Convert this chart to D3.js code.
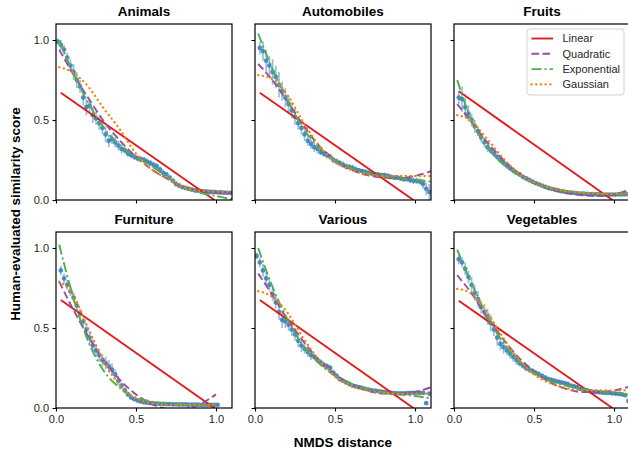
<!DOCTYPE html>
<html><head><meta charset="utf-8">
<script src="https://cdn.jsdelivr.net/npm/d3@7"></script>
<style>body{margin:0;background:#fff}svg{display:block}</style>
</head><body><svg id="c" width="628" height="452"></svg>
<script>
const categories = ["Animals","Automobiles","Fruits","Furniture","Various","Vegetables"];
const fitNames = ["Linear","Quadratic","Exponential","Gaussian"];
const xTicks = [0, 0.5, 1.0];
const yTicks = [0, 0.5, 1.0];
const xLabel = "NMDS distance";
const yLabel = "Human-evaluated similarity score";

const distances = [0.01,0.03,0.05,0.07,0.09,0.11,0.13,0.15,0.17,0.19,0.21,0.23,0.25,0.27,0.29,0.31,0.33,0.35,0.37,0.39,0.41,0.43,0.45,0.47,0.49,0.51,0.53,0.55,0.57,0.59,0.61,0.63,0.65,0.67,0.69,0.71,0.73,0.75,0.77,0.79,0.81,0.83,0.85,0.87,0.89,0.91,0.93,0.95,0.97,0.99,1.01,1.03,1.05,1.07,1.09];

const simAnimals = [0.99,0.97,0.94,0.89,0.84,0.80,0.75,0.71,0.64,0.58,0.59,0.53,0.51,0.48,0.45,0.41,0.37,0.38,0.36,0.34,0.32,0.31,0.29,0.28,0.27,0.26,0.255,0.25,0.24,0.23,0.22,0.21,0.19,0.17,0.16,0.14,0.12,0.10,0.09,0.08,0.075,0.07,0.065,0.06,0.058,0.056,0.054,0.052,0.05,0.05,0.048,0.047,0.046,0.045,0.045];
const errAnimals = [0.02,0.03,0.03,0.03,0.04,0.05,0.05,0.04,0.05,0.05,0.04,0.05,0.04,0.04,0.04,0.05,0.04,0.03,0.03,0.03,0.03,0.02,0.02,0.02,0.02,0.02,0.02,0.02,0.02,0.02,0.02,0.02,0.02,0.02,0.015,0.015,0.015,0.015,0.015,0.01,0.01,0.01,0.01,0.01,0.01,0.01,0.01,0.01,0.01,0.01,0.01,0.01,0.01,0.01,0.01];

const simAutomobiles = [null,0.95,0.93,0.87,0.84,0.80,0.77,0.72,0.68,0.64,0.60,0.56,0.52,0.48,0.45,0.41,0.37,0.35,0.33,0.32,0.30,0.29,0.28,0.27,0.25,0.24,0.23,0.22,0.21,0.205,0.20,0.19,0.185,0.18,0.175,0.17,0.165,0.16,0.16,0.155,0.155,0.15,0.145,0.14,0.14,0.135,0.13,0.13,0.125,0.12,0.12,0.115,0.10,0.07,0.05];
const errAutomobiles = [null,0.04,0.06,0.07,0.06,0.08,0.07,0.08,0.06,0.06,0.05,0.05,0.05,0.04,0.04,0.04,0.03,0.03,0.03,0.03,0.02,0.02,0.02,0.02,0.02,0.02,0.02,0.02,0.02,0.02,0.02,0.02,0.015,0.015,0.015,0.015,0.015,0.015,0.015,0.015,0.015,0.015,0.015,0.015,0.015,0.015,0.015,0.015,0.02,0.02,0.02,0.02,0.03,0.04,0.05];

const simFruits = [null,0.64,0.63,0.58,0.54,0.50,0.46,0.43,0.39,0.36,0.33,0.31,0.29,0.27,0.25,0.235,0.215,0.20,0.185,0.17,0.16,0.145,0.135,0.125,0.115,0.105,0.098,0.09,0.082,0.075,0.07,0.065,0.06,0.055,0.052,0.048,0.046,0.044,0.042,0.04,0.039,0.038,0.037,0.036,0.035,0.035,0.034,0.034,0.034,0.034,0.034,0.035,0.035,0.036,0.036];
const errFruits = [null,0.04,0.08,0.06,0.05,0.04,0.04,0.03,0.03,0.03,0.03,0.02,0.02,0.02,0.02,0.02,0.02,0.02,0.02,0.015,0.015,0.015,0.015,0.015,0.015,0.01,0.01,0.01,0.01,0.01,0.01,0.01,0.01,0.01,0.01,0.01,0.01,0.01,0.01,0.01,0.01,0.01,0.01,0.01,0.01,0.01,0.01,0.01,0.01,0.01,0.01,0.01,0.01,0.01,0.01];

const simFurniture = [null,0.86,0.81,0.77,0.73,0.69,0.64,0.59,0.54,0.49,0.44,0.39,0.36,0.33,0.30,0.28,0.26,0.24,0.21,0.17,0.14,0.11,0.085,0.065,0.055,0.047,0.04,0.036,0.033,0.03,0.028,0.027,0.026,0.025,0.024,0.024,0.023,0.023,0.022,0.022,0.022,0.021,0.021,0.021,0.021,0.02,0.02,0.02,0.02,0.02,0.02,null,null,null,null];
const errFurniture = [null,0.03,0.03,0.03,0.03,0.03,0.03,0.03,0.04,0.04,0.04,0.04,0.04,0.04,0.04,0.04,0.04,0.04,0.03,0.03,0.02,0.02,0.015,0.01,0.01,0.01,0.01,0.01,0.01,0.01,0.01,0.01,0.01,0.01,0.01,0.01,0.01,0.01,0.01,0.01,0.01,0.01,0.01,0.01,0.01,0.01,0.01,0.01,0.01,0.01,0.01,null,null,null,null];

const simVarious = [0.95,0.91,0.86,0.81,0.77,0.71,0.66,0.60,0.55,0.54,0.52,0.49,0.46,0.42,0.39,0.37,0.35,0.33,0.32,0.30,0.285,0.27,0.26,0.25,0.22,0.20,0.18,0.17,0.16,0.15,0.14,0.135,0.13,0.125,0.12,0.115,0.11,0.108,0.105,0.102,0.10,0.098,0.095,0.093,0.092,0.092,0.092,0.093,0.094,0.095,0.095,0.095,0.094,0.03,0.09];
const errVarious = [0.02,0.03,0.04,0.04,0.04,0.04,0.04,0.05,0.05,0.04,0.04,0.04,0.04,0.04,0.04,0.03,0.03,0.03,0.02,0.02,0.02,0.02,0.02,0.02,0.02,0.02,0.015,0.015,0.015,0.015,0.01,0.01,0.01,0.01,0.01,0.01,0.01,0.01,0.01,0.01,0.01,0.01,0.01,0.01,0.01,0.01,0.01,0.01,0.01,0.01,0.01,0.01,0.01,0.01,0.01];

const simVegetables = [null,0.93,0.91,0.87,0.82,0.77,0.72,0.68,0.63,0.60,0.57,0.53,0.49,0.44,0.40,0.38,0.36,0.34,0.32,0.30,0.28,0.265,0.25,0.24,0.23,0.22,0.21,0.20,0.19,0.18,0.175,0.17,0.165,0.16,0.155,0.15,0.14,0.135,0.13,0.12,0.115,0.11,0.105,0.10,0.10,0.098,0.096,0.095,0.094,0.092,0.09,0.088,0.085,0.08,0.045];
const errVegetables = [null,0.03,0.03,0.04,0.04,0.05,0.05,0.05,0.04,0.05,0.05,0.05,0.04,0.05,0.04,0.04,0.03,0.03,0.03,0.03,0.02,0.02,0.02,0.02,0.02,0.02,0.02,0.015,0.015,0.015,0.015,0.015,0.01,0.01,0.01,0.01,0.01,0.01,0.01,0.01,0.01,0.01,0.01,0.01,0.01,0.01,0.01,0.01,0.01,0.01,0.01,0.01,0.01,0.01,0.02];

// fitted curves, read at these distances
const fitX = [0.02,0.1,0.2,0.3,0.4,0.5,0.6,0.7,0.8,0.9,1.0,1.1];
const quadAnimals     = [0.94,0.80,0.64,0.49,0.37,0.27,0.19,0.13,0.08,0.055,0.045,0.045];
const expAnimals      = [1.0,0.81,0.61,0.45,0.34,0.27,0.21,0.14,0.075,0.045,0.025,0.005];
const gaussAnimals    = [0.83,0.80,0.71,0.57,0.44,0.29,0.19,0.13,0.08,0.058,0.052,0.05];
const quadAutomobiles = [0.85,0.76,0.62,0.47,0.34,0.25,0.19,0.155,0.14,0.135,0.15,0.18];
const expAutomobiles  = [1.04,0.84,0.63,0.45,0.33,0.25,0.20,0.17,0.15,0.135,0.125,0.115];
const gaussAutomobiles= [0.78,0.76,0.66,0.49,0.34,0.24,0.19,0.16,0.15,0.15,0.15,0.15];
const quadFruits      = [0.60,0.50,0.37,0.26,0.17,0.11,0.07,0.045,0.03,0.025,0.035,0.065];
const expFruits       = [0.75,0.52,0.34,0.23,0.16,0.11,0.075,0.055,0.045,0.04,0.035,0.035];
const gaussFruits     = [0.53,0.50,0.39,0.27,0.17,0.11,0.075,0.055,0.045,0.04,0.04,0.04];
const quadFurniture   = [0.79,0.63,0.45,0.295,0.175,0.085,0.024,-0.006,-0.006,0.024,0.085,null];
const expFurniture    = [1.02,0.72,0.42,0.23,0.125,0.065,0.04,0.028,0.022,0.02,0.02,null];
const gaussFurniture  = [0.79,0.72,0.50,0.29,0.14,0.06,0.03,0.02,0.02,0.02,0.02,null];
const quadVarious     = [0.84,0.72,0.56,0.42,0.30,0.21,0.15,0.11,0.09,0.09,0.10,0.13];
const expVarious      = [1.0,0.78,0.56,0.39,0.28,0.20,0.15,0.12,0.10,0.085,0.075,0.06];
const gaussVarious    = [0.73,0.70,0.60,0.44,0.30,0.20,0.14,0.11,0.095,0.09,0.09,0.09];
const quadVegetables  = [0.83,0.73,0.58,0.44,0.32,0.23,0.16,0.12,0.10,0.10,0.11,0.135];
const expVegetables   = [0.99,0.80,0.59,0.42,0.30,0.22,0.17,0.14,0.12,0.105,0.095,0.085];
const gaussVegetables = [0.745,0.72,0.61,0.45,0.31,0.21,0.155,0.125,0.11,0.11,0.11,0.11];
const linearX = [0.03, 0.99];
const linAnimals = [0.67, 0.0];
const linAutomobiles = [0.67, 0.0];
const linFruits = [0.68, 0.0];
const linFurniture = [0.675, 0.0];
const linVarious = [0.675, 0.0];
const linVegetables = [0.67, 0.0];

const panels = [
  {name:"Animals", sim:simAnimals, err:errAnimals, lin:linAnimals, quad:quadAnimals, exp:expAnimals, gauss:gaussAnimals},
  {name:"Automobiles", sim:simAutomobiles, err:errAutomobiles, lin:linAutomobiles, quad:quadAutomobiles, exp:expAutomobiles, gauss:gaussAutomobiles},
  {name:"Fruits", sim:simFruits, err:errFruits, lin:linFruits, quad:quadFruits, exp:expFruits, gauss:gaussFruits},
  {name:"Furniture", sim:simFurniture, err:errFurniture, lin:linFurniture, quad:quadFurniture, exp:expFurniture, gauss:gaussFurniture},
  {name:"Various", sim:simVarious, err:errVarious, lin:linVarious, quad:quadVarious, exp:expVarious, gauss:gaussVarious},
  {name:"Vegetables", sim:simVegetables, err:errVegetables, lin:linVegetables, quad:quadVegetables, exp:expVegetables, gauss:gaussVegetables}
];

const colors = {data:"#377eb8", Linear:"#e41a1c", Quadratic:"#984ea3", Exponential:"#4daf4a", Gaussian:"#ff7f00"};
const dashes = {Linear:null, Quadratic:"7.5,3.5", Exponential:"10,3,2,3", Gaussian:"0.1,4.6"};
const widths = {Linear:1.9, Quadratic:1.9, Exponential:1.9, Gaussian:2.3};

const svg = d3.select("#c");
const FONT = "'Liberation Sans', Arial, Helvetica, sans-serif";
const colX = [56, 255, 454], rowY = [24, 232], W = 176, H = 176;

const x = d3.scaleLinear().domain([0, 1.1]).range([0, W]);
const y = d3.scaleLinear().domain([0, 1.1]).range([H, 0]);

const defs = svg.append("defs");
defs.append("clipPath").attr("id","clip").append("rect").attr("width",W).attr("height",H);

panels.forEach((p, i) => {
  const col = i % 3, row = Math.floor(i / 3);
  const g = svg.append("g").attr("transform", `translate(${colX[col]},${rowY[row]})`);
  const plot = g.append("g").attr("clip-path","url(#clip)");

  const pts = distances.map((d, k) => ({x:d, v:p.sim[k], e:p.err[k]})).filter(d => d.v != null);
  plot.append("g").selectAll("line").data(pts).join("line")
    .attr("x1", d => x(d.x)).attr("x2", d => x(d.x))
    .attr("y1", d => y(d.v - d.e)).attr("y2", d => y(d.v + d.e))
    .attr("stroke", colors.data).attr("stroke-opacity", 0.5).attr("stroke-width", 1.7);
  plot.append("g").selectAll("circle").data(pts).join("circle")
    .attr("cx", d => x(d.x)).attr("cy", d => y(d.v)).attr("r", 2.4)
    .attr("fill", colors.data).attr("fill-opacity", 0.85);

  const line = d3.line().defined(d => d[1] != null).x(d => x(d[0])).y(d => y(d[1])).curve(d3.curveMonotoneX);
  const series = {
    Linear: linearX.map((xx, k) => [xx, p.lin[k]]),
    Quadratic: fitX.map((xx, k) => [xx, p.quad[k]]),
    Exponential: fitX.map((xx, k) => [xx, p.exp[k]]),
    Gaussian: fitX.map((xx, k) => [xx, p.gauss[k]])
  };
  fitNames.forEach(n => {
    plot.append("path").attr("d", line(series[n]))
      .attr("fill","none").attr("stroke", colors[n]).attr("stroke-width", widths[n])
      .attr("stroke-dasharray", dashes[n])
      .attr("stroke-linecap", n === "Gaussian" ? "round" : "butt");
  });

  g.append("rect").attr("width",W).attr("height",H).attr("fill","none").attr("stroke","#000").attr("stroke-width",1.2);

  const xa = d3.axisBottom(x).tickValues(xTicks).tickSize(3.5).tickPadding(3.5).tickFormat(row === 1 ? d3.format(".1f") : () => "");
  const ya = d3.axisLeft(y).tickValues(yTicks).tickSize(3.5).tickPadding(3.5).tickFormat(col === 0 ? d3.format(".1f") : () => "");
  const gx = g.append("g").attr("transform", `translate(0,${H})`).call(xa);
  const gy = g.append("g").call(ya);
  [gx, gy].forEach(a => {
    a.select(".domain").remove();
    a.selectAll("line").attr("stroke","#000").attr("stroke-width",1.1);
    a.selectAll("text").attr("font-family", FONT).attr("font-size", 11).attr("fill","#262626");
  });

  g.append("text").attr("x", W/2).attr("y", -8).attr("text-anchor","middle")
    .attr("font-family", FONT).attr("font-weight","bold").attr("font-size", 13.5).attr("fill","#000").text(p.name);
});

svg.append("text").attr("x", colX[1] + W/2).attr("y", 447).attr("text-anchor","middle")
  .attr("font-family", FONT).attr("font-weight","bold").attr("font-size", 13.5).text(xLabel);
svg.append("text").attr("transform", "translate(20,214) rotate(-90)").attr("text-anchor","middle")
  .attr("font-family", FONT).attr("font-weight","bold").attr("font-size", 13.4).text(yLabel);

const lg = svg.append("g").attr("transform","translate(527,29)");
lg.append("rect").attr("width",97).attr("height",66).attr("rx",3)
  .attr("fill","#fff").attr("fill-opacity",0.85).attr("stroke","#cccccc").attr("stroke-width",0.9);
fitNames.forEach((n, k) => {
  const yy = 9.5 + k * 15.3;
  lg.append("line").attr("x1",4.5).attr("x2",26).attr("y1",yy).attr("y2",yy)
    .attr("stroke", colors[n]).attr("stroke-width", widths[n]).attr("stroke-dasharray", dashes[n])
    .attr("stroke-linecap", n === "Gaussian" ? "round" : "butt");
  lg.append("text").attr("x",35.5).attr("y",yy).attr("dy","0.35em")
    .attr("font-family", FONT).attr("font-size", 11).attr("fill","#262626").text(n);
});
</script></body></html>
